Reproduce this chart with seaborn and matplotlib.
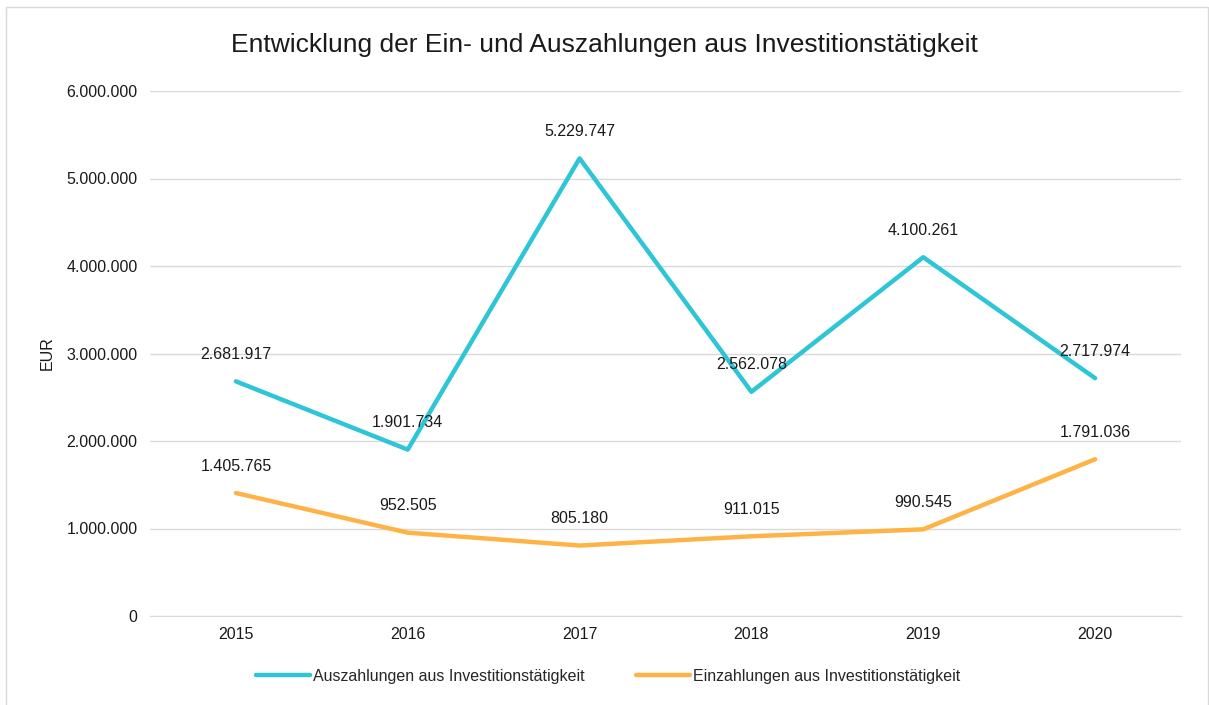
import matplotlib
matplotlib.use("Agg")
import matplotlib.pyplot as plt
import seaborn as sns
import pandas as pd
from matplotlib.ticker import FuncFormatter
from matplotlib.patches import Rectangle

# Daten
jahre = ["2015", "2016", "2017", "2018", "2019", "2020"]
auszahlungen = [2681917, 1901734, 5229747, 2562078, 4100261, 2717974]
einzahlungen = [1405765, 952505, 805180, 911015, 990545, 1791036]
serien = ["Auszahlungen aus Investitionstätigkeit", "Einzahlungen aus Investitionstätigkeit"]
farben = ["#2EC5D6", "#FFB347"]

df = pd.DataFrame({"Jahr": jahre * 2,
                   "Wert": auszahlungen + einzahlungen,
                   "Serie": [serien[0]] * 6 + [serien[1]] * 6})

sns.set_style("white")
plt.rcParams['font.family'] = ['Liberation Sans', 'DejaVu Sans']
fs = 11.5

fig = plt.figure(figsize=(12.09, 7.05), dpi=100)
ax = fig.add_axes([150 / 1209, 1 - 616 / 705, 1031 / 1209, 525 / 705])

sns.lineplot(data=df, x="Jahr", y="Wert", hue="Serie", palette=farben,
             linewidth=3.2, ax=ax, legend=False, sort=False)

def fmt(v):
    return f"{int(round(v)):,}".replace(",", ".")

# Datenbeschriftungen
for werte in (auszahlungen, einzahlungen):
    for i, v in enumerate(werte):
        ax.annotate(fmt(v), (i, v), xytext=(0, 14), textcoords="offset points",
                    ha="center", va="bottom", fontsize=fs, color="#1a1a1a")

ax.set_xlim(-0.5, 5.5)
ax.set_ylim(0, 6000000)
ax.set_yticks(range(0, 6000001, 1000000))
ax.yaxis.set_major_formatter(FuncFormatter(lambda v, p: fmt(v)))
ax.grid(axis="y", color="#d9d9d9", linewidth=1)
ax.set_axisbelow(True)
for s in ("top", "right", "left"):
    ax.spines[s].set_visible(False)
ax.spines["bottom"].set_color("#d9d9d9")
ax.tick_params(axis="both", length=0, labelsize=fs, colors="#1a1a1a")
ax.tick_params(axis="x", pad=8)
ax.tick_params(axis="y", pad=9)
ax.set_xlabel("")
ax.set_ylabel("EUR", fontsize=fs, color="#1a1a1a", labelpad=8)

fig.text(0.5, 1 - 45 / 705, "Entwicklung der Ein- und Auszahlungen aus Investitionstätigkeit",
         ha="center", va="center", fontsize=19, color="#1a1a1a")

# Legende
handles = [plt.Line2D([], [], color=c, linewidth=3.2, solid_capstyle="round") for c in farben]
fig.legend(handles, serien, loc="center", bbox_to_anchor=(608 / 1209, 1 - 676 / 705),
           ncol=2, frameon=False, fontsize=fs, handlelength=3.4, handletextpad=0.2,
           columnspacing=3.2)

# Rahmen
fig.patches.append(Rectangle((6 / 1209, -0.01), 1202 / 1209, 1 - 7 / 705 + 0.01,
                             transform=fig.transFigure, fill=False,
                             edgecolor="#d9d9d9", linewidth=1))

plt.savefig("out.png", dpi=100)
